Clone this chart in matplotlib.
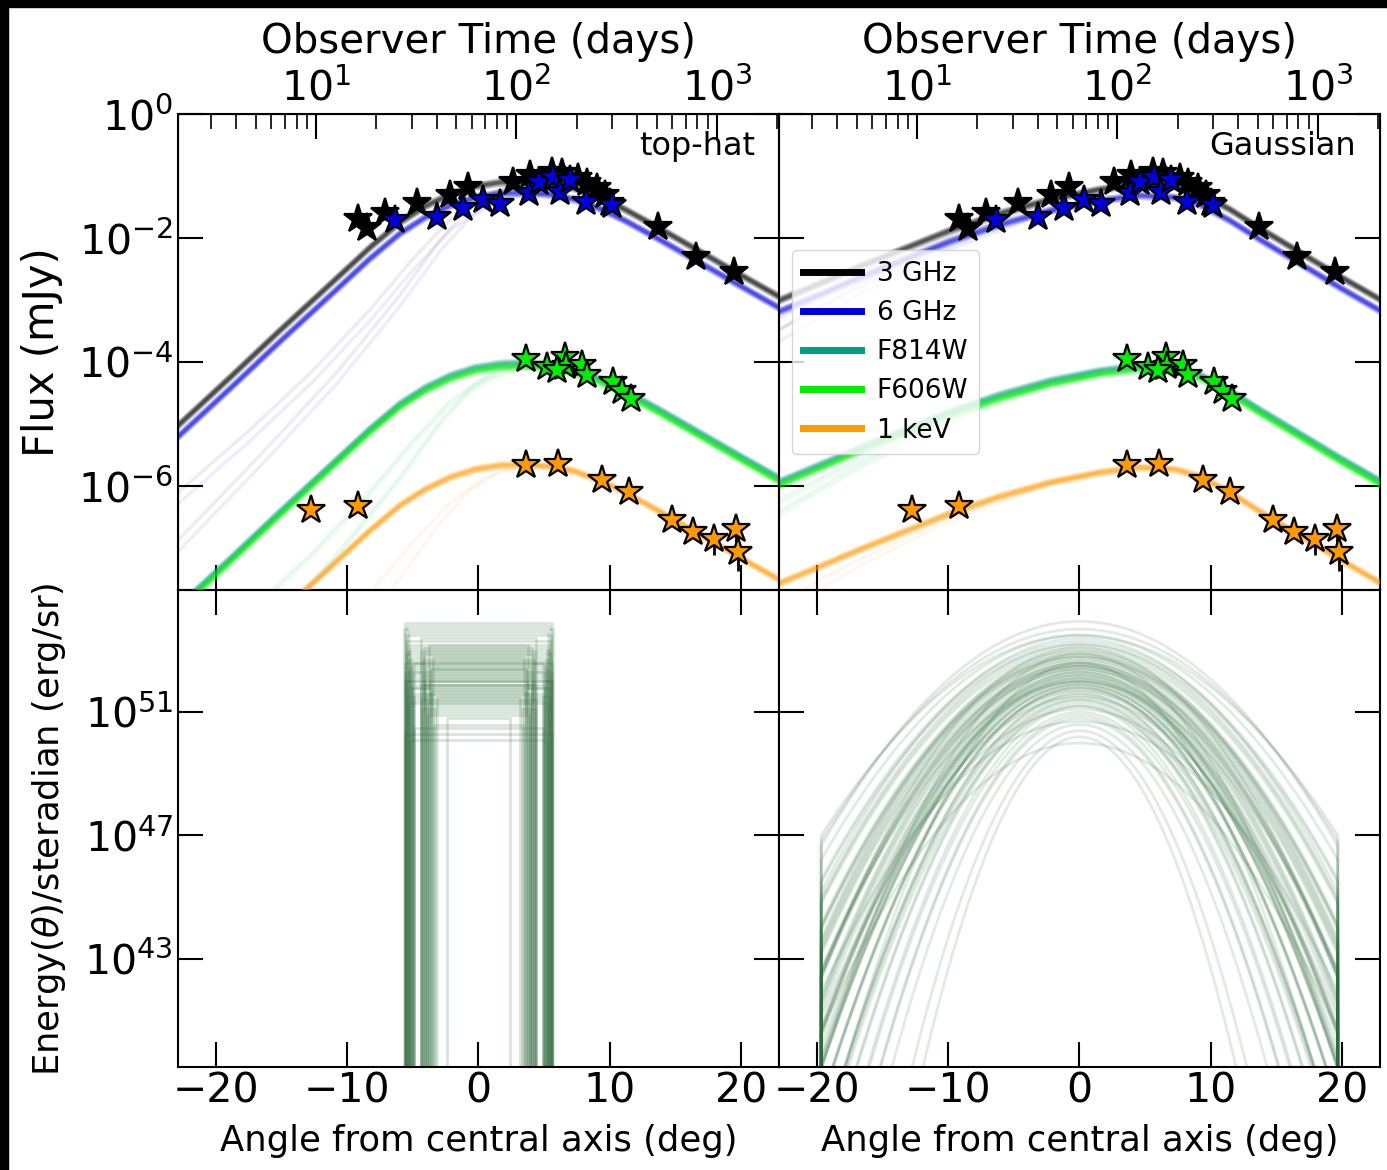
import matplotlib
matplotlib.use('Agg')
import matplotlib.pyplot as plt
from matplotlib.ticker import FixedLocator, NullLocator
from matplotlib.lines import Line2D
from matplotlib.patches import Rectangle
import numpy as np

# ---- observed afterglow points (days, mJy) ----
t_3ghz = [16.3, 17.9, 22.1, 32.0, 46.6, 57.5, 95.8, 117, 150, 168, 204, 224, 251, 277, 293, 510, 784, 1216]
f_3ghz = [0.0200, 0.0143, 0.0250, 0.0363, 0.0494, 0.0672, 0.0809, 0.104, 0.117, 0.111, 0.0918,
          0.0762, 0.0633, 0.0494, 0.0363, 0.0152, 0.00499, 0.00286]
t_6ghz = [24.8, 40.0, 54.3, 68.4, 82.8, 115, 129, 153, 165, 185, 222, 299]
f_6ghz = [0.0195, 0.0221, 0.0301, 0.0410, 0.0353, 0.0526, 0.0809, 0.0975, 0.0558, 0.0861, 0.0385, 0.0340]
t_opt = [112, 142, 175, 177, 159, 212, 224, 302, 335, 372]
f_opt = [1.11e-4, 8.4e-5, 1.22e-4, 8.6e-5, 7.6e-5, 8.95e-5, 6.2e-5, 4.8e-5, 3.5e-5, 2.6e-5]
t_xray = [9.4, 16.2, 111, 162, 266, 366, 595, 762, 966, 1245, 1279]
f_xray = [4.1e-7, 4.9e-7, 2.18e-6, 2.32e-6, 1.25e-6, 8.1e-7, 2.83e-7, 1.83e-7, 1.43e-7, 2.08e-7, 8.7e-8]
xray_err_lo = [0.3e-7, 0, 0, 0, 0, 0, 0, 0, 0.65e-7, 0.8e-7, 0.43e-7]

# ---- model light curves at 3 GHz (log10 days, log10 mJy) ----
tophat_logt = [0.312, 0.571, 0.820, 1.070, 1.270, 1.419, 1.544, 1.669, 1.793, 1.918, 2.043, 2.167,
               2.292, 2.417, 2.541, 2.706, 2.915, 3.115, 3.309]
tophat_logf = [-5.016, -4.242, -3.484, -2.742, -2.145, -1.742, -1.484, -1.290, -1.161, -1.097, -1.081,
               -1.113, -1.194, -1.339, -1.532, -1.823, -2.210, -2.581, -2.935]
tophat_faint_logt = [0.312, 0.721, 1.105, 1.419, 1.619, 1.768, 1.918, 2.068, 2.217, 2.292, 2.417,
                     2.541, 2.706, 2.915, 3.115, 3.309]
tophat_faint_logf = [-6.871, -5.500, -4.161, -2.919, -2.032, -1.500, -1.194, -1.097, -1.129, -1.194,
                     -1.339, -1.532, -1.823, -2.210, -2.581, -2.935]
tophat_faint2_logt = [0.312, 0.650, 0.980, 1.270, 1.480, 1.669, 1.850, 2.043, 2.167, 2.292]
tophat_faint2_logf = [-6.100, -5.150, -4.150, -3.150, -2.350, -1.700, -1.290, -1.110, -1.113, -1.194]

gauss_logt = [0.312, 0.516, 0.716, 0.915, 1.165, 1.414, 1.664, 1.913, 2.113, 2.287, 2.412, 2.561,
              2.711, 2.911, 3.110, 3.310]
gauss_logf = [-3.000, -2.726, -2.452, -2.194, -1.871, -1.597, -1.371, -1.210, -1.129, -1.161, -1.274,
              -1.532, -1.839, -2.226, -2.613, -2.984]
gauss_faint_logt = [0.312, 0.716, 1.165, 1.664, 1.913, 2.113, 2.287, 2.412, 2.561, 2.711, 2.911, 3.110, 3.310]
gauss_faint_logf = [-3.484, -2.726, -2.000, -1.403, -1.210, -1.129, -1.161, -1.274, -1.532, -1.839,
                    -2.226, -2.613, -2.984]
gauss_faint2_logt = [0.312, 0.716, 1.165, 1.414, 1.664, 1.913]
gauss_faint2_logf = [-3.290, -2.613, -1.952, -1.640, -1.380, -1.210]

# band offsets relative to 3 GHz (dex)
bands = ['3 GHz', '6 GHz', 'F814W', 'F606W', '1 keV']
band_offset = [0.0, -0.18, -2.92, -2.98, -4.56]
band_color = ['black', '#0000DD', '#009E80', '#00EE00', '#FF9900']
sample_shift = [-0.045, -0.025, -0.01, 0.0, 0.012, 0.03]

# ---- jet structure posterior samples (deg, log10 erg/sr) ----
th_core = [5.6, 5.5, 5.4, 5.3, 5.2, 5.5, 5.6, 5.1, 5.0, 4.9, 5.3, 5.4, 4.4, 4.2, 4.1, 4.0, 3.9, 3.8,
           3.6, 3.5, 3.3, 3.2, 5.65, 5.45, 5.25, 5.05, 4.95, 4.3, 4.15, 3.95, 3.7, 3.4, 5.55, 5.35,
           5.15, 4.35, 4.05, 2.4, 5.6, 5.2, 4.4, 3.9, 5.5, 5.58, 5.42, 5.32, 5.12, 4.98, 4.25, 3.85,
           3.75, 3.55, 5.62, 5.48, 5.28, 5.08, 4.92, 4.38, 4.12, 3.65]
th_loge = [52.6, 52.9, 53.2, 52.4, 52.1, 53.5, 53.9, 51.8, 52.3, 51.6, 52.7, 53.0, 51.4, 52.2, 51.9,
           52.5, 51.3, 52.0, 51.7, 52.8, 51.2, 51.5, 53.7, 52.2, 53.1, 51.9, 52.6, 51.1, 52.9, 51.6,
           52.4, 50.6, 53.3, 51.8, 52.5, 53.0, 52.1, 50.8, 50.3, 50.1, 53.4, 51.0, 52.0, 52.3, 51.5,
           53.6, 52.8, 51.4, 52.7, 50.9, 53.2, 51.7, 52.0, 53.8, 51.3, 52.6, 50.5, 51.9, 53.1, 52.4]

g_core = [2.9, 3.1, 2.6, 3.3, 2.4, 3.0, 2.7, 3.2, 2.5, 3.4, 2.3, 2.8, 3.0, 2.2, 3.5, 2.6, 2.9, 2.1,
          3.1, 2.7, 2.8, 2.5, 3.2, 2.4, 3.0, 2.0, 2.9, 2.6, 3.3, 2.7, 2.8, 2.2, 3.1, 2.5, 2.9, 1.8,
          3.0, 2.7, 3.2, 2.4, 2.8, 2.6, 3.0, 2.3, 2.9, 1.7, 3.4, 2.7, 2.8, 2.5, 3.6, 2.1, 3.0, 2.6,
          2.9, 2.8, 3.0, 3.1, 2.4, 3.2, 2.6, 2.7, 3.0, 2.5, 2.9, 2.3, 3.1, 2.8, 2.6, 2.4]
g_loge = [52.4, 52.8, 51.9, 53.2, 51.6, 52.5, 52.1, 53.0, 51.8, 53.5, 51.4, 52.3, 52.9, 51.2, 53.7,
          52.0, 52.6, 50.9, 52.7, 52.2, 52.5, 51.7, 53.1, 51.5, 52.8, 50.6, 52.4, 51.9, 53.3, 52.1,
          52.0, 51.0, 52.9, 51.8, 52.6, 50.4, 52.7, 52.3, 53.4, 51.6, 52.2, 51.9, 53.0, 51.3, 52.5,
          50.2, 53.95, 52.0, 52.4, 51.8, 53.5, 50.8, 52.6, 52.1, 52.5, 51.5, 50.0, 52.8, 51.2, 53.2,
          52.3, 51.7, 52.0, 52.9, 51.1, 52.6, 50.7, 53.1, 52.2, 51.4]
g_wing = 19.7

GREEN = '#2f6b3c'
TICK_KW = dict(direction='in', length=18, width=1.5, labelsize=29.5)

fig = plt.figure(figsize=(13.87, 11.70), dpi=100)
fig.patch.set_facecolor('white')
gs = fig.add_gridspec(2, 2, left=0.1283, right=0.99495, top=0.9026, bottom=0.088,
                      hspace=0, wspace=0)

E_LO, E_HI = 3e39, 9e54

for col in range(2):
    ax = fig.add_subplot(gs[0, col])
    axe = fig.add_subplot(gs[1, col], sharex=ax)
    for a in (ax, axe):
        a.set_xlim(-22.92, 22.92)
        a.set_xticks([-20, -10, 0, 10, 20])
        for sp in a.spines.values():
            sp.set_linewidth(1.5)

    # light curves on a twin (time) axis
    ax.set_yscale('log')
    ax.set_ylim(2.1e-8, 1.0)
    ax.yaxis.set_major_locator(FixedLocator([1e-6, 1e-4, 1e-2, 1.0]))
    ax.yaxis.set_minor_locator(NullLocator())
    axt = ax.twiny()
    axt.set_xscale('log')
    axt.set_xlim(2.05, 2040)

    if col == 0:
        lt, lf = tophat_logt, tophat_logf
        faint = [(tophat_faint_logt, tophat_faint_logf), (tophat_faint2_logt, tophat_faint2_logf)]
    else:
        lt, lf = gauss_logt, gauss_logf
        faint = [(gauss_faint_logt, gauss_faint_logf), (gauss_faint2_logt, gauss_faint2_logf)]
    tt = 10 ** np.array(lt)
    ff = np.array(lf)
    for off, c in zip(band_offset, band_color):
        for flt, flf in faint:
            axt.plot(10 ** np.array(flt), 10 ** (np.array(flf) + off), color=c, lw=2.5,
                     alpha=0.07, zorder=1)
        for d in sample_shift:
            axt.plot(tt, 10 ** (ff + off + d), color=c, lw=3, alpha=0.2, zorder=2)

    star = dict(marker='*', ms=21, mec='black', mew=1.6, ls='none', zorder=5)
    axt.plot(t_3ghz, f_3ghz, mfc='black', **star)
    axt.plot(t_6ghz, f_6ghz, mfc='#0000DD', **star)
    axt.plot(t_opt, f_opt, mfc='#00EE00', **star)
    axt.errorbar(t_xray, f_xray, yerr=[xray_err_lo, [0] * len(f_xray)], fmt='none',
                 ecolor='black', elinewidth=2, zorder=4)
    axt.plot(t_xray, f_xray, mfc='#FF9900', **star)

    axt.tick_params(axis='x', which='major', top=True, bottom=False, **TICK_KW)
    axt.tick_params(axis='x', which='minor', direction='in', length=11, width=1.2)
    axt.set_xlabel('Observer Time (days)', fontsize=29, labelpad=11)

    ax.tick_params(axis='x', bottom=True, top=False, labelbottom=False, **TICK_KW)
    ax.tick_params(axis='y', left=True, right=True, labelleft=(col == 0), **TICK_KW)
    ax.text(0.96, 0.965, ['top-hat', 'Gaussian'][col], transform=ax.transAxes,
            ha='right', va='top', fontsize=23)
    if col == 0:
        ax.set_ylabel('Flux (mJy)', fontsize=30, labelpad=11)
    else:
        handles = [Line2D([], [], color=c, lw=5) for c in band_color]
        axt.legend(handles, bands, loc='center left', fontsize=19, handlelength=2.2,
                   handletextpad=0.6, labelspacing=0.5, borderaxespad=0.5)

    # energy profile
    axe.set_yscale('log')
    axe.set_ylim(E_LO, E_HI)
    axe.yaxis.set_major_locator(FixedLocator([1e43, 1e47, 1e51]))
    axe.yaxis.set_minor_locator(NullLocator())
    if col == 0:
        for tc, le in zip(th_core, th_loge):
            axe.plot([-tc, -tc, tc, tc], [1e30, 10 ** le, 10 ** le, 1e30], color=GREEN,
                     lw=2, alpha=0.18)
        axe.set_ylabel(r'Energy($\theta$)/steradian (erg/sr)', fontsize=25.5, labelpad=12)
    else:
        th = np.linspace(-g_wing, g_wing, 400)
        for tc, le in zip(g_core, g_loge):
            loge = le - th ** 2 / (2 * tc ** 2) / np.log(10)
            axe.plot(np.r_[-g_wing, th, g_wing], 10 ** np.r_[30, loge, 30], color=GREEN,
                     lw=2, alpha=0.14)
    axe.tick_params(axis='x', bottom=True, top=True, **TICK_KW)
    axe.tick_params(axis='y', left=True, right=True, labelleft=(col == 0), **TICK_KW)
    axe.set_xlabel('Angle from central axis (deg)', fontsize=25.5, labelpad=9)

# thin black frame on top and left edges
fig.add_artist(Rectangle((0, 1 - 7 / 1170), 1, 7 / 1170, transform=fig.transFigure,
                         color='black', zorder=10))
fig.add_artist(Rectangle((0, 0), 8 / 1387, 1, transform=fig.transFigure, color='black', zorder=10))

fig.savefig('out.png', dpi=100, facecolor='white')
